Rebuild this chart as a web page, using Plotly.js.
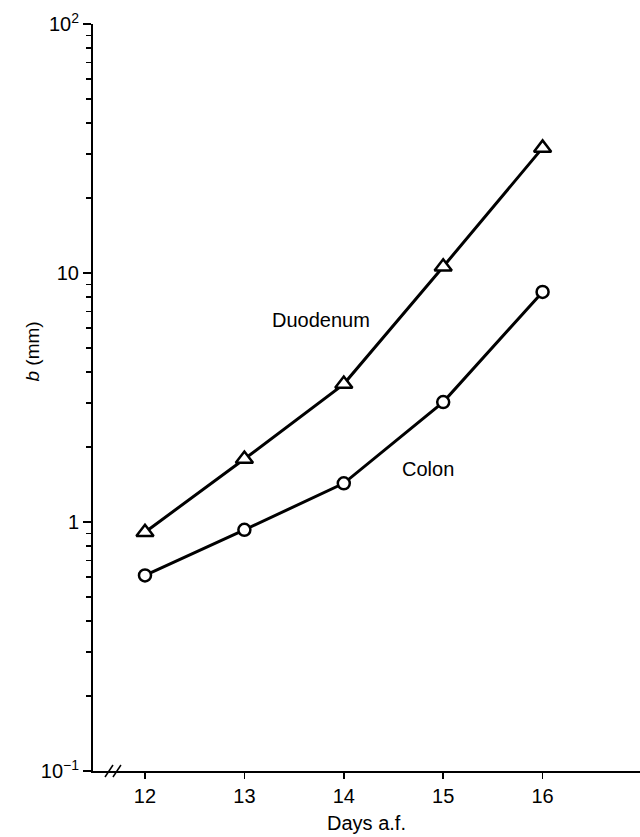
<!DOCTYPE html>
<html>
<head>
<meta charset="utf-8">
<script src="https://cdn.plot.ly/plotly-3.0.1.min.js"></script>
<style>html,body{margin:0;padding:0;background:#fff;}#chart{width:640px;height:837px;}</style>
</head>
<body>
<div id="chart"></div>
<script>
const days = [12, 13, 14, 15, 16];
const duodenum = [0.91, 1.79, 3.58, 10.6, 31.8];
const colon = [0.61, 0.93, 1.43, 3.03, 8.39];
const xTickVals = [12, 13, 14, 15, 16];
const yTickVals = [0.1, 1, 10, 100];
const yTickText = ['10<sup>−1</sup>', '1', '10', '10<sup>2</sup>'];

const FONT = 'Liberation Sans, Arial, Helvetica, sans-serif';

const traces = [
  {
    x: days, y: duodenum, type: 'scatter', mode: 'lines+markers', name: 'Duodenum',
    line: {color: 'black', width: 3},
    marker: {symbol: 'triangle-up', size: 15, color: 'white', line: {color: 'black', width: 2.5}}
  },
  {
    x: days, y: colon, type: 'scatter', mode: 'lines+markers', name: 'Colon',
    line: {color: 'black', width: 3},
    marker: {symbol: 'circle', size: 12, color: 'white', line: {color: 'black', width: 2.5}}
  }
];

const layout = {
  width: 640, height: 837,
  margin: {l: 93, r: 0, t: 24, b: 66},
  paper_bgcolor: 'white', plot_bgcolor: 'white',
  showlegend: false,
  font: {family: FONT, size: 20, color: 'black'},
  xaxis: {
    range: [11.477, 16.98],
    tickvals: xTickVals,
    ticks: 'outside', ticklen: 6, tickwidth: 1.5, tickcolor: 'black',
    showline: true, linecolor: 'black', linewidth: 2,
    showgrid: false, zeroline: false,
    tickfont: {family: FONT, size: 20, color: 'black'},
    title: {text: 'Days a.f.', font: {family: FONT, size: 20, color: 'black'}, standoff: 10}
  },
  yaxis: {
    type: 'log',
    range: [-1, 2],
    tickvals: yTickVals, ticktext: yTickText,
    ticks: 'outside', ticklen: 8, tickwidth: 2, tickcolor: 'black',
    minor: {ticks: 'outside', ticklen: 5, tickwidth: 1.5, tickcolor: 'black', dtick: 'D1', showgrid: false},
    showline: true, linecolor: 'black', linewidth: 2,
    showgrid: false, zeroline: false,
    tickfont: {family: FONT, size: 20, color: 'black'}
  },
  annotations: [
    {x: 13.77, y: 0.811, xref: 'x', yref: 'y', text: 'Duodenum', showarrow: false,
     font: {family: FONT, size: 20, color: 'black'}},
    {x: 14.85, y: 0.213, xref: 'x', yref: 'y', text: 'Colon', showarrow: false,
     font: {family: FONT, size: 20, color: 'black'}},
    {x: 0, y: 0, xref: 'paper', yref: 'paper', text: '<i>b</i> (mm)', showarrow: false,
     textangle: -90, font: {family: FONT, size: 19, color: 'black'}}
  ],
  shapes: [
    {type: 'line', xref: 'x', yref: 'paper', xsizemode: 'pixel', ysizemode: 'pixel',
     xanchor: 11.638, yanchor: 0, x0: -4, x1: 4, y0: -6, y1: 6, line: {color: 'black', width: 1.5}},
    {type: 'line', xref: 'x', yref: 'paper', xsizemode: 'pixel', ysizemode: 'pixel',
     xanchor: 11.718, yanchor: 0, x0: -4, x1: 4, y0: -6, y1: 6, line: {color: 'black', width: 1.5}}
  ]
};

// place the y title by pixel position converted to paper coords
const plotW = 640 - 93, plotH = 837 - 24 - 66;
layout.annotations[2].x = (19 - 93) / plotW;
layout.annotations[2].y = (837 - 66 - 352) / plotH;

Plotly.newPlot('chart', traces, layout, {displayModeBar: false, staticPlot: true});
</script>
</body>
</html>
